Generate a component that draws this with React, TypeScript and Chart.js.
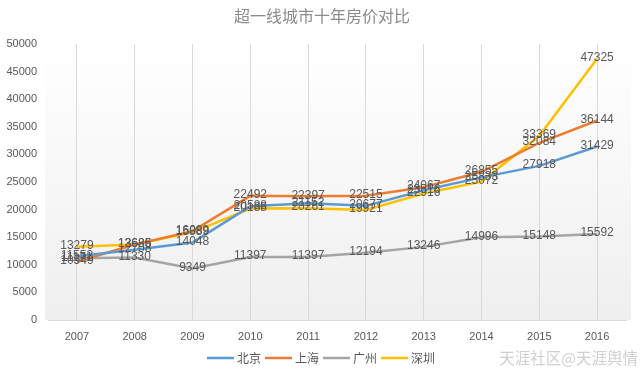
import React, { useEffect, useRef } from "react";
import { Chart, registerables } from "chart.js";

Chart.register(...registerables);

const title = "超一线城市十年房价对比";
const years = ["2007", "2008", "2009", "2010", "2011", "2012", "2013", "2014", "2015", "2016"];
const beijing = [11553, 12708, 14048, 20588, 21152, 20677, 23516, 25833, 27918, 31429];
const shanghai = [10549, 13686, 16089, 22492, 22397, 22515, 24067, 26855, 32084, 36144];
const guangzhou = [11171, 11330, 9349, 11397, 11397, 12194, 13246, 14996, 15148, 15592];
const shenzhen = [13279, 13685, 15889, 20188, 20261, 19921, 22916, 25072, 33369, 47325];
const seriesNames = ["北京", "上海", "广州", "深圳"];
const seriesColors = ["#5B9BD5", "#ED7D31", "#A5A5A5", "#FFC000"];
const watermark = "天涯社区@天涯舆情";

const NUM_FONT = "'Liberation Sans', 'DejaVu Sans', sans-serif";
const CJK_FONT = "'Noto Sans CJK SC', sans-serif";

export default function App() {
  const ref = useRef<HTMLCanvasElement | null>(null);

  useEffect(() => {
    if (!ref.current) return;
    const allSeries = [beijing, shanghai, guangzhou, shenzhen];

    const decor = {
      id: "decor",
      beforeDraw(chart: any) {
        const { ctx, chartArea } = chart;
        const g = ctx.createLinearGradient(0, chartArea.top, 0, chartArea.bottom);
        g.addColorStop(0, "#ffffff");
        g.addColorStop(1, "#efefef");
        ctx.save();
        ctx.fillStyle = g;
        ctx.fillRect(chartArea.left - 3, chartArea.top - 4, chartArea.right - chartArea.left + 8, chartArea.bottom - chartArea.top + 4);
        ctx.restore();
      },
      afterDatasetsDraw(chart: any) {
        const { ctx } = chart;
        ctx.save();
        ctx.font = `12px ${NUM_FONT}`;
        ctx.fillStyle = "#595959";
        ctx.textAlign = "center";
        ctx.textBaseline = "middle";
        chart.data.datasets.forEach((ds: any, i: number) => {
          const meta = chart.getDatasetMeta(i);
          meta.data.forEach((pt: any, j: number) => {
            ctx.fillText(String(ds.data[j]), pt.x, pt.y - 1);
          });
        });
        ctx.restore();
      },
      afterDraw(chart: any) {
        const { ctx } = chart;
        ctx.save();
        // title
        ctx.font = `16px ${CJK_FONT}`;
        ctx.fillStyle = "#8c8c8c";
        ctx.textAlign = "center";
        ctx.textBaseline = "middle";
        ctx.fillText(title, 322, 16);
        // legend
        const y = 358;
        let x = 207;
        ctx.font = `12px ${CJK_FONT}`;
        ctx.textAlign = "left";
        seriesNames.forEach((n, i) => {
          ctx.strokeStyle = seriesColors[i];
          ctx.lineWidth = 2.5;
          ctx.beginPath();
          ctx.moveTo(x, y);
          ctx.lineTo(x + 27, y);
          ctx.stroke();
          ctx.fillStyle = "#595959";
          ctx.fillText(n, x + 30, y);
          x += 30 + ctx.measureText(n).width + 4;
        });
        // watermark
        ctx.font = `15.5px ${CJK_FONT}`;
        ctx.fillStyle = "#d0d0d0";
        ctx.textAlign = "right";
        ctx.fillText(watermark, 638, 358);
        ctx.restore();
      },
    };

    const chart = new Chart(ref.current, {
      type: "line",
      data: {
        labels: years,
        datasets: seriesNames.map((n, i) => ({
          label: n,
          data: allSeries[i],
          borderColor: seriesColors[i],
          backgroundColor: seriesColors[i],
          borderWidth: 2.5,
          pointRadius: 0,
          tension: 0,
          fill: false,
        })),
      },
      options: {
        responsive: false,
        animation: false,
        layout: { padding: { top: 44, left: 0, right: 14, bottom: 0 } },
        plugins: {
          legend: { display: false },
          title: { display: false },
          tooltip: { enabled: false },
        },
        scales: {
          x: {
            offset: true,
            grid: { display: true, color: "#d9d9d9", drawTicks: false, offset: false },
            border: { display: true, color: "#d9d9d9" },
            ticks: { color: "#595959", font: { family: NUM_FONT, size: 11 }, padding: 10, maxRotation: 0 },
            afterFit(scale: any) {
              scale.height = 55;
            },
          },
          y: {
            min: 0,
            max: 50000,
            ticks: {
              stepSize: 5000,
              color: "#595959",
              font: { family: NUM_FONT, size: 11 },
              padding: 11,
              callback: (v: any) => String(v),
            },
            grid: { display: false, drawTicks: false },
            border: { display: false },
            afterFit(scale: any) {
              scale.width = 48;
            },
          },
        },
      },
      plugins: [decor],
    });
    return () => chart.destroy();
  }, []);

  return (
    <div style={{ position: "absolute", left: 0, top: 0, width: 640, height: 375, background: "#ffffff" }}>
      <canvas ref={ref} width={640} height={375} style={{ display: "block" }} />
    </div>
  );
}
